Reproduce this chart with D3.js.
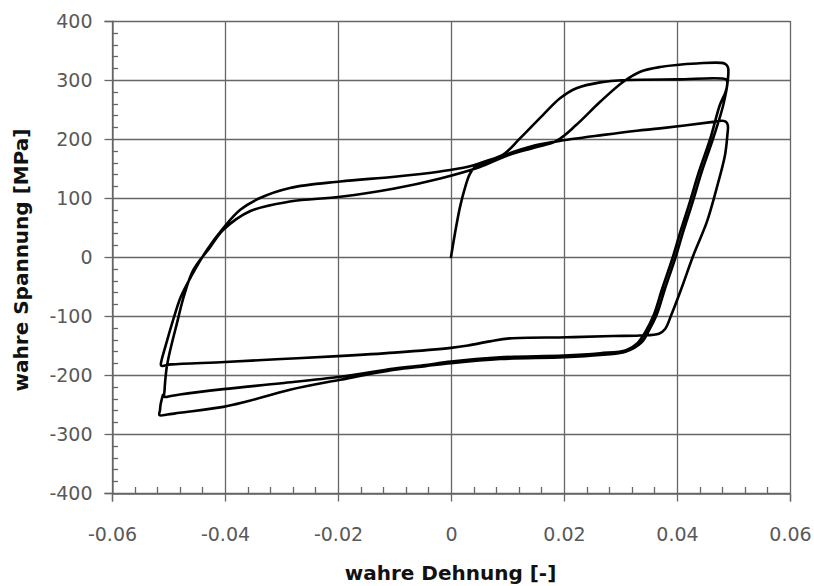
<!DOCTYPE html>
<html>
<head>
<meta charset="utf-8">
<script src="https://cdn.jsdelivr.net/npm/d3@7"></script>
<style>
  html, body { margin: 0; padding: 0; background: #fff; }
  svg { display: block; }
</style>
</head>
<body>
<svg id="chart" width="814" height="586"></svg>
<script>
// Cyclic tension-compression test: true strain [-] vs true stress [MPa].
// Each branch is a list of [strain, stress] pairs, in test order.
const initialLoading = [
  [0, 0], [0.0007, 40], [0.0016, 85], [0.0025, 118], [0.0033, 140], [0.0042, 152],
  [0.0060, 160], [0.0081, 167], [0.011, 178], [0.014, 187], [0.0187, 196],
  [0.027, 207], [0.0329, 214], [0.037, 218], [0.0464, 229], [0.0480, 231], [0.0487, 229]
];
const unloading1 = [
  [0.0490, 223], [0.0489, 205], [0.0485, 173], [0.0470, 116], [0.0453, 60],
  [0.0429, 3], [0.0408, -53], [0.0390, -98], [0.0379, -122], [0.0368, -130],
  [0.0334, -133], [0.0287, -134], [0.0205, -136], [0.0104, -138], [0.0069, -143],
  [0.003, -150], [0, -154], [-0.01, -162], [-0.02, -168], [-0.03, -173],
  [-0.04, -178], [-0.0495, -182], [-0.0513, -184]
];
const reloading2 = [
  [-0.0512, -174], [-0.0508, -160], [-0.0499, -130], [-0.0490, -101], [-0.0478, -67],
  [-0.0460, -33], [-0.0432, 12], [-0.0403, 49], [-0.0373, 80], [-0.0338, 100],
  [-0.0285, 117], [-0.0196, 128], [-0.01, 136], [-0.0019, 145], [0.003, 153],
  [0.006, 162], [0.0093, 174], [0.0122, 201], [0.0163, 241], [0.0193, 269],
  [0.0222, 286], [0.0264, 296], [0.031, 300], [0.04, 301], [0.0487, 301]
];
const unloading2 = [
  [0.0489, 296], [0.0486, 280], [0.0476, 258], [0.0459, 201], [0.0439, 145],
  [0.0421, 88], [0.0406, 43], [0.0392, -2], [0.0374, -53], [0.0359, -98],
  [0.0344, -127], [0.0330, -146], [0.031, -158], [0.0264, -163], [0.02, -167],
  [0.0087, -170], [0, -177], [-0.0045, -183], [-0.01, -189], [-0.0196, -203],
  [-0.03, -214], [-0.0403, -224], [-0.048, -233], [-0.0496, -235.5], [-0.0507, -237]
];
const reloading3 = [
  [-0.0507, -226], [-0.0506, -212], [-0.0503, -186], [-0.0497, -158], [-0.0485, -112],
  [-0.0473, -67], [-0.0456, -22], [-0.0426, 17], [-0.0403, 46], [-0.0355, 78],
  [-0.0285, 94], [-0.0196, 102], [-0.01, 116], [-0.0019, 133], [0.005, 152],
  [0.01, 172], [0.015, 186], [0.0187, 197], [0.0222, 224], [0.0264, 263],
  [0.0305, 297], [0.0335, 314], [0.037, 322], [0.0435, 328], [0.0484, 328]
];
const unloading3 = [
  [0.0490, 322], [0.0490, 300], [0.0482, 258], [0.0464, 201], [0.0444, 145],
  [0.0426, 88], [0.0411, 43], [0.0397, -2], [0.0379, -53], [0.0364, -98],
  [0.0350, -125], [0.0337, -145], [0.031, -160], [0.0264, -166], [0.02, -170],
  [0.0087, -173], [0, -180], [-0.0045, -185], [-0.01, -191], [-0.0196, -208],
  [-0.0285, -225], [-0.0362, -245], [-0.0403, -254], [-0.048, -264],
  [-0.0502, -267], [-0.0516, -268]
];
const reloading4 = [
  [-0.0515, -259], [-0.0514, -250], [-0.0510, -234]
];
const branches = [initialLoading, unloading1, reloading2, unloading2, reloading3, unloading3, reloading4];

// Axis ticks
const xTicks = [-0.06, -0.04, -0.02, 0, 0.02, 0.04, 0.06];
const yTicks = [-400, -300, -200, -100, 0, 100, 200, 300, 400];
const xTickLabels = ["-0.06", "-0.04", "-0.02", "0", "0.02", "0.04", "0.06"];
const xTitle = "wahre Dehnung [-]";
const yTitle = "wahre Spannung [MPa]";

const plot = { left: 112, right: 790, top: 21, bottom: 493 };
const svg = d3.select("#chart");
const x = d3.scaleLinear().domain([-0.06, 0.06]).range([plot.left, plot.right]);
const y = d3.scaleLinear().domain([-400, 400]).range([plot.bottom, plot.top]);

const gridColor = "#666";
const labelFont = "'DejaVu Sans', Verdana, sans-serif";

// Grid
const grid = svg.append("g");
grid.selectAll("line.gx").data(xTicks).join("line")
  .attr("x1", d => Math.round(x(d)) + 0.5).attr("x2", d => Math.round(x(d)) + 0.5)
  .attr("y1", plot.top).attr("y2", plot.bottom)
  .attr("stroke", gridColor).attr("stroke-width", 1.3);
grid.selectAll("line.gy").data(yTicks).join("line")
  .attr("y1", d => Math.round(y(d)) + 0.5).attr("y2", d => Math.round(y(d)) + 0.5)
  .attr("x1", plot.left).attr("x2", plot.right)
  .attr("stroke", gridColor).attr("stroke-width", 1.3);

// Minor ticks (inside the plot area)
const yMinor = d3.range(-400, 401, 20).filter(v => v % 100 !== 0);
const xMinor = d3.range(-60, 61, 4).filter(v => v % 20 !== 0).map(v => v / 1000);
grid.selectAll("line.my").data(yMinor).join("line")
  .attr("x1", plot.left).attr("x2", plot.left + 6)
  .attr("y1", d => Math.round(y(d)) + 0.5).attr("y2", d => Math.round(y(d)) + 0.5)
  .attr("stroke", gridColor).attr("stroke-width", 1.3);
grid.selectAll("line.mx").data(xMinor).join("line")
  .attr("x1", d => Math.round(x(d)) + 0.5).attr("x2", d => Math.round(x(d)) + 0.5)
  .attr("y1", plot.bottom).attr("y2", plot.bottom - 6)
  .attr("stroke", gridColor).attr("stroke-width", 1.3);

// Axes
const xAxis = d3.axisBottom(x).tickValues(xTicks).tickSize(8)
  .tickFormat((d, i) => xTickLabels[i]);
const yAxis = d3.axisLeft(y).tickValues(yTicks).tickSize(8).tickPadding(12)
  .tickFormat(d => String(d));

const gx = svg.append("g").attr("transform", `translate(0,${Math.round(plot.bottom) + 0.5})`).call(xAxis);
const gy = svg.append("g").attr("transform", `translate(${plot.left + 0.5},0)`).call(yAxis);
[gx, gy].forEach(g => {
  g.select(".domain").attr("stroke", gridColor).attr("stroke-width", 1.3);
  g.selectAll(".tick line").attr("stroke", gridColor).attr("stroke-width", 1.3);
  g.selectAll(".tick text")
    .attr("fill", "#595959")
    .style("font-family", labelFont)
    .style("font-size", "19px");
});
gx.selectAll(".tick text").attr("y", 47).attr("dy", 0);
gy.selectAll(".tick text").attr("dy", "0.36em");
gy.selectAll(".tick").attr("transform", d => `translate(0,${Math.round(y(d)) + 0.5})`);
gx.selectAll(".tick").attr("transform", d => `translate(${Math.round(x(d)) + 0.5},0)`);

// Hysteresis curve: all branches joined into one continuous trace
const trace = branches.flat();
const line = d3.line()
  .x(d => x(d[0]))
  .y(d => y(d[1]))
  .curve(d3.curveCatmullRom.alpha(0.5));
svg.append("path")
  .datum(trace)
  .attr("d", line)
  .attr("fill", "none")
  .attr("stroke", "#000")
  .attr("stroke-width", 2.6)
  .attr("stroke-linejoin", "round")
  .attr("stroke-linecap", "round");

// Axis titles
svg.append("text")
  .attr("x", (plot.left + plot.right) / 2 - 0.5).attr("y", 580)
  .attr("text-anchor", "middle")
  .style("font-family", labelFont).style("font-weight", "bold").style("font-size", "20px")
  .attr("fill", "#111")
  .text(xTitle);
svg.append("text")
  .attr("transform", `translate(28,${(plot.top + plot.bottom) / 2 + 3}) rotate(-90)`)
  .attr("text-anchor", "middle")
  .style("font-family", labelFont).style("font-weight", "bold").style("font-size", "20px")
  .attr("fill", "#111")
  .text(yTitle);
</script>
</body>
</html>
